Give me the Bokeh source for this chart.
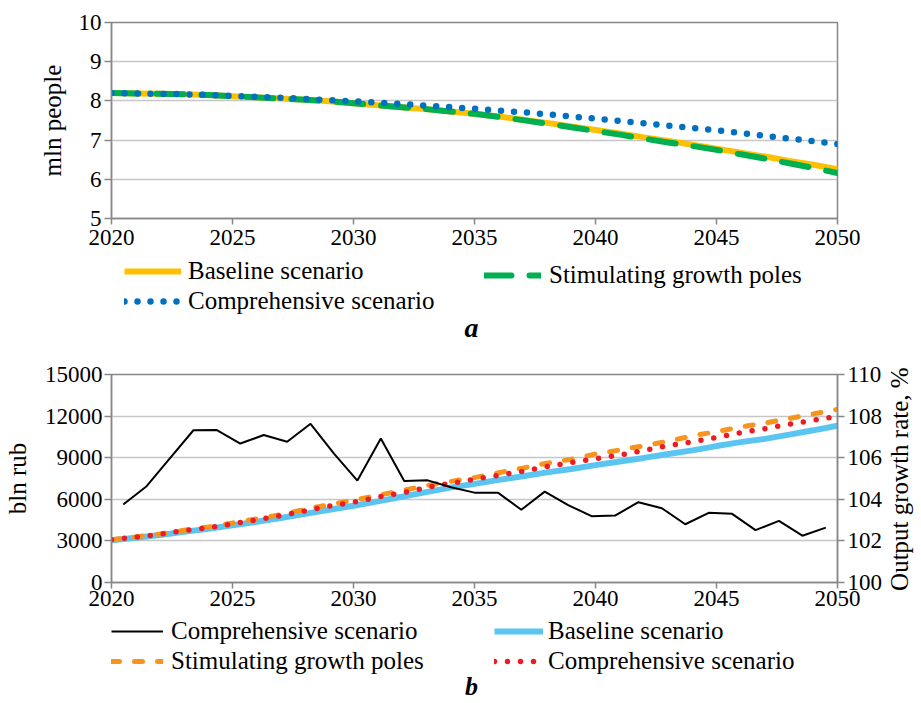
from math import pi
from bokeh.plotting import figure
from bokeh.models import (Range1d, LinearAxis, FixedTicker, Legend, LegendItem,
                          Label, BasicTickFormatter)
from bokeh.layouts import column
from bokeh.embed import file_html
from bokeh.resources import INLINE

FONT = "Liberation Serif"

# ---------------- data ----------------
years = list(range(2020, 2051))
x_ticks = [2020, 2025, 2030, 2035, 2040, 2045, 2050]

# panel a: population, mln people
pop_baseline = [8.20, 8.19, 8.18, 8.17, 8.15, 8.12, 8.09, 8.06, 8.03, 7.99,
                7.94, 7.89, 7.84, 7.79, 7.73, 7.67, 7.60, 7.52, 7.44, 7.35,
                7.26, 7.17, 7.07, 6.98, 6.88, 6.78, 6.68, 6.58, 6.47, 6.37, 6.26]
pop_growth_poles = [8.20, 8.19, 8.18, 8.17, 8.15, 8.12, 8.09, 8.06, 8.03, 7.99,
                    7.94, 7.89, 7.84, 7.79, 7.73, 7.67, 7.59, 7.51, 7.42, 7.33,
                    7.23, 7.14, 7.04, 6.94, 6.85, 6.75, 6.64, 6.53, 6.41, 6.29, 6.16]
pop_comprehensive = [8.20, 8.19, 8.18, 8.17, 8.15, 8.13, 8.10, 8.08, 8.05, 8.02,
                     7.99, 7.96, 7.92, 7.88, 7.84, 7.80, 7.75, 7.71, 7.66, 7.60,
                     7.55, 7.49, 7.43, 7.37, 7.31, 7.25, 7.18, 7.11, 7.04, 6.97, 6.90]
pop_ticks = [5, 6, 7, 8, 9, 10]

# panel b: output, bln rub (left axis) and growth rate, % (right axis)
out_baseline = [3050, 3220, 3420, 3650, 3870, 4120, 4380, 4650, 4950, 5250,
                5530, 5850, 6180, 6520, 6840, 7115, 7400, 7660, 7943, 8180,
                8464, 8725, 8985, 9270, 9530, 9838, 10122, 10359, 10667, 10974, 11300]
out_growth_poles = [3080, 3290, 3500, 3770, 4000, 4290, 4590, 4900, 5270, 5620,
                    5920, 6290, 6620, 6990, 7280, 7565, 7920, 8250, 8606, 8890,
                    9270, 9554, 9860, 10193, 10572, 10880, 11211, 11495, 11827, 12158, 12490]
out_comprehensive = [3080, 3275, 3478, 3741, 3956, 4230, 4517, 4815, 5173, 5507,
                     5794, 6152, 6462, 6840, 7150, 7440, 7740, 8025, 8355, 8654,
                     8925, 9185, 9520, 9860, 10140, 10465, 10809, 11093, 11410, 11695, 11990]
rate_comprehensive = [103.75, 104.63, 105.98, 107.32, 107.33, 106.68, 107.09, 106.77,
                      107.63, 106.20, 104.90, 106.92, 104.88, 104.91, 104.58, 104.32,
                      104.32, 103.50, 104.37, 103.72, 103.19, 103.22, 103.86, 103.57,
                      102.80, 103.35, 103.30, 102.52, 102.96, 102.25, 102.64]
out_ticks = [0, 3000, 6000, 9000, 12000, 15000]
rate_ticks = [100, 102, 104, 106, 108, 110]
rate_label_tick = [101.6]

AX = "#878787"
GRID = "#C6C6C6"

# line styles
S_POP_BASE = dict(line_color="#FFC000", line_width=6)
S_POP_GROW = dict(line_color="#00B050", line_width=6, line_dash="27 18", line_cap="round")
S_POP_COMP = dict(line_color="#0070C0", line_width=6.5, line_dash="0 13", line_cap="round")
S_OUT_BASE = dict(line_color="#5BC5F2", line_width=6)
S_OUT_GROW = dict(line_color="#F7941D", line_width=5, line_dash="8 15", line_cap="round")
S_OUT_COMP = dict(line_color="#ED1C24", line_width=5.5, line_dash="0 13", line_cap="round")
S_RATE = dict(line_color="black", line_width=2)


def style_axis(ax):
    ax.axis_line_color = AX
    ax.axis_line_width = 1.5
    ax.major_tick_line_color = AX
    ax.major_tick_line_width = 1.5
    ax.major_tick_in = 0
    ax.major_tick_out = 7
    ax.minor_tick_line_color = None
    ax.major_label_text_font = FONT
    ax.major_label_text_font_size = "23px"
    ax.major_label_text_color = "black"
    ax.axis_label_text_font = FONT
    ax.axis_label_text_font_size = "25px"
    ax.axis_label_text_font_style = "normal"
    ax.axis_label_text_color = "black"


def base_fig(fh, yr, top, bottom):
    p = figure(frame_width=726, frame_height=fh,
               x_range=Range1d(2020, 2050), y_range=yr,
               output_backend="svg", toolbar_location=None,
               min_border_left=107, min_border_right=83,
               min_border_top=top, min_border_bottom=bottom)
    p.outline_line_color = AX
    p.outline_line_width = 1.5
    p.xgrid.visible = False
    p.ygrid.grid_line_color = GRID
    p.ygrid.grid_line_width = 1.5
    p.xaxis.ticker = FixedTicker(ticks=x_ticks)
    for ax in p.xaxis + p.yaxis:
        style_axis(ax)
    p.xaxis.major_tick_out = 6
    p.yaxis.formatter = BasicTickFormatter(use_scientific=False)
    return p


def legend_fig(h):
    f = figure(frame_width=726, height=h, x_range=Range1d(0, 1), y_range=Range1d(0, 1),
               x_axis_type=None, y_axis_type=None, output_backend="svg",
               toolbar_location=None, min_border_left=107, min_border_right=83,
               min_border_top=0, min_border_bottom=0)
    f.outline_line_color = None
    f.xgrid.visible = False
    f.ygrid.visible = False
    return f


def make_legend(items, loc, gw, standoff, spacing):
    return Legend(items=items, location=loc, orientation="vertical",
                  glyph_width=gw, glyph_height=30, label_height=30,
                  label_standoff=standoff, spacing=spacing, padding=0, margin=0,
                  border_line_color=None, background_fill_alpha=0,
                  label_text_font=FONT, label_text_font_size="25px",
                  label_text_color="black")


def panel_letter(f, txt, y, size):
    f.add_layout(Label(x=360, y=y, x_units="screen", y_units="screen", text=txt,
                       text_font=FONT, text_font_size=size,
                       text_font_style="bold italic", text_align="center",
                       text_baseline="middle", text_color="black"))


# ---------------- panel a ----------------
p1 = base_fig(196, Range1d(5, 10), 22, 38)
p1.xaxis.major_label_standoff = 5
p1.yaxis.ticker = FixedTicker(ticks=pop_ticks)
p1.yaxis.axis_label = "mln people"
p1.yaxis.major_label_standoff = 3
p1.yaxis.axis_label_standoff = 10

p1.line(years, pop_baseline, **S_POP_BASE)
p1.line(years, pop_growth_poles, **S_POP_GROW)
p1.line(years, pop_comprehensive, **S_POP_COMP)

# legend strip of panel a (one-point keys carry the line styles)
l1 = legend_fig(90)
k1 = l1.line(years[:1], pop_baseline[:1], **S_POP_BASE)
k2 = l1.line(years[:1], pop_growth_poles[:1], **S_POP_GROW)
k3 = l1.line(years[:1], pop_comprehensive[:1], **S_POP_COMP)
l1.add_layout(make_legend([LegendItem(label="Baseline scenario", renderers=[k1]),
                           LegendItem(label="Comprehensive scenario", renderers=[k3])],
                          (13, 30), 57, 7, -4))
l1.add_layout(make_legend([LegendItem(label="Stimulating growth poles", renderers=[k2])],
                          (373, 56), 57, 8, 0))
panel_letter(l1, "a", 19, "28px")

# ---------------- panel b ----------------
p2 = base_fig(208, Range1d(0, 15000), 28, 36)
p2.xaxis.major_label_standoff = 2
p2.extra_y_ranges = {"rate": Range1d(100, 110)}
p2.extra_x_ranges = {"mid": Range1d(2019.5, 2050.5)}
p2.yaxis.ticker = FixedTicker(ticks=out_ticks)
p2.yaxis.axis_label = "bln rub"
p2.yaxis.major_label_standoff = 2
p2.yaxis.axis_label_standoff = 11

rax = LinearAxis(y_range_name="rate", ticker=FixedTicker(ticks=rate_ticks))
style_axis(rax)
rax.major_label_standoff = 3
p2.add_layout(rax, "right")

# title of the right axis, reading bottom-to-top like the reference
rax_title = LinearAxis(y_range_name="rate", ticker=FixedTicker(ticks=rate_label_tick),
                       major_label_overrides={rate_label_tick[0]: "Output growth rate, %"},
                       major_label_orientation=pi / 2)
style_axis(rax_title)
rax_title.major_label_text_font_size = "25px"
rax_title.axis_line_color = None
rax_title.major_tick_line_color = None
rax_title.major_tick_out = 0
rax_title.major_label_standoff = 14
p2.add_layout(rax_title, "right")

p2.line(years, out_baseline, **S_OUT_BASE)
p2.line(years, out_growth_poles, **S_OUT_GROW)
p2.line(years, out_comprehensive, **S_OUT_COMP)
p2.line(years, rate_comprehensive, x_range_name="mid", y_range_name="rate", **S_RATE)

# legend strip of panel b
l2 = legend_fig(82)
m1 = l2.line(years[:1], rate_comprehensive[:1], **S_RATE)
m2 = l2.line(years[:1], out_baseline[:1], **S_OUT_BASE)
m3 = l2.line(years[:1], out_growth_poles[:1], **S_OUT_GROW)
m4 = l2.line(years[:1], out_comprehensive[:1], **S_OUT_COMP)
l2.add_layout(make_legend([LegendItem(label="Comprehensive scenario", renderers=[m1]),
                           LegendItem(label="Stimulating growth poles", renderers=[m3])],
                          (0, 24), 52, 8, -3))
l2.add_layout(make_legend([LegendItem(label="Baseline scenario", renderers=[m2]),
                           LegendItem(label="Comprehensive scenario", renderers=[m4])],
                          (383, 24), 49, 5, -3))
panel_letter(l2, "b", 14, "26px")

layout = column(p1, l1, p2, l2, spacing=0)
open("out.html", "w").write(file_html(layout, INLINE))
